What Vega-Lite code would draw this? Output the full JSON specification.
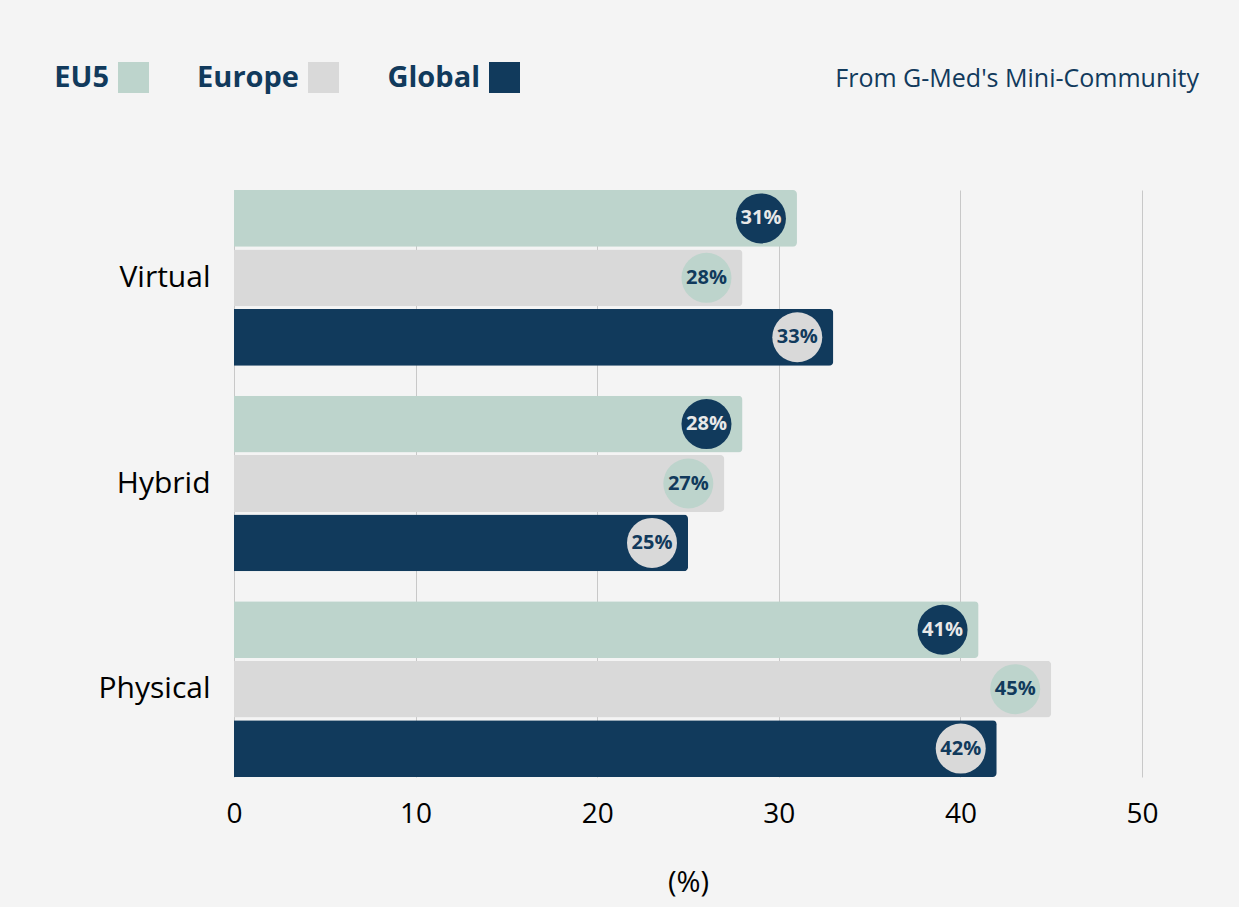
{
  "$schema": "https://vega.github.io/schema/vega-lite/v6.json",
  "width": 908,
  "height": 587,
  "autosize": {"type": "none"},
  "padding": {"left": 234, "top": 190, "right": 97, "bottom": 130},
  "background": "#f4f4f4",
  "config": {
    "view": {"stroke": null},
    "font": "Open Sans"
  },
  "title": {
    "text": "From G-Med's Mini-Community",
    "anchor": "end",
    "frame": "group",
    "orient": "top",
    "dx": 57,
    "offset": 0,
    "dy": 50,
    "baseline": "alphabetic",
    "fontSize": 25,
    "fontWeight": "normal",
    "color": "#113a5c",
    "font": "Open Sans"
  },
  "data": {
    "values": [
      {"mode": "Virtual", "region": "EU5", "value": 31, "label": "31%"},
      {"mode": "Virtual", "region": "Europe", "value": 28, "label": "28%"},
      {"mode": "Virtual", "region": "Global", "value": 33, "label": "33%"},
      {"mode": "Hybrid", "region": "EU5", "value": 28, "label": "28%"},
      {"mode": "Hybrid", "region": "Europe", "value": 27, "label": "27%"},
      {"mode": "Hybrid", "region": "Global", "value": 25, "label": "25%"},
      {"mode": "Physical", "region": "EU5", "value": 41, "label": "41%"},
      {"mode": "Physical", "region": "Europe", "value": 45, "label": "45%"},
      {"mode": "Physical", "region": "Global", "value": 42, "label": "42%"}
    ]
  },
  "encoding": {
    "y": {
      "field": "mode",
      "type": "nominal",
      "sort": ["Virtual", "Hybrid", "Physical"],
      "scale": {"paddingInner": 0.146, "paddingOuter": 0},
      "axis": {
        "title": null,
        "domain": false,
        "ticks": false,
        "labelFontSize": 30,
        "labelColor": "#000000",
        "labelPadding": 24,
        "labelFont": "Open Sans"
      }
    },
    "yOffset": {
      "field": "region",
      "type": "nominal",
      "sort": ["EU5", "Europe", "Global"],
      "scale": {"paddingInner": 0.045, "paddingOuter": 0}
    },
    "x": {
      "field": "value",
      "type": "quantitative",
      "scale": {"domain": [0, 50]},
      "axis": {
        "values": [0, 10, 20, 30, 40, 50],
        "title": "(%)",
        "titleFontSize": 29,
        "titleFontWeight": "normal",
        "titleColor": "#000000",
        "titlePadding": 40,
        "titleFont": "Open Sans",
        "domain": false,
        "ticks": false,
        "grid": true,
        "gridColor": "#c8c8c8",
        "gridWidth": 1,
        "labelFontSize": 28,
        "labelColor": "#000000",
        "labelPadding": 23,
        "labelFlush": false,
        "labelFont": "Open Sans"
      }
    }
  },
  "layer": [
    {
      "mark": {"type": "bar", "cornerRadiusEnd": 4},
      "encoding": {
        "color": {
          "field": "region",
          "type": "nominal",
          "sort": ["EU5", "Europe", "Global"],
          "scale": {"domain": ["EU5", "Europe", "Global"], "range": ["#bdd4cc", "#d9d9d9", "#113a5c"]},
          "legend": {
            "title": null,
            "orient": "none",
            "legendX": -116,
            "legendY": -128,
            "direction": "horizontal",
            "symbolType": "square",
            "symbolSize": 961,
            "symbolStrokeWidth": 0,
            "symbolOpacity": 1,
            "labelAlign": "right",
            "labelOffset": -40,
            "labelFontSize": 29,
            "labelFontWeight": "bold",
            "labelColor": "#113a5c",
            "labelFont": "Open Sans",
            "columnPadding": 48
          }
        }
      }
    },
    {
      "mark": {"type": "point", "shape": "circle", "filled": true, "opacity": 1, "size": 2500, "xOffset": -36},
      "encoding": {
        "fill": {
          "field": "region",
          "type": "nominal",
          "scale": {"domain": ["EU5", "Europe", "Global"], "range": ["#113a5c", "#bdd4cc", "#d9d9d9"]},
          "legend": null
        }
      }
    },
    {
      "mark": {"type": "text", "fontSize": 20, "fontWeight": "bold", "xOffset": -36, "baseline": "middle", "align": "center", "font": "Open Sans"},
      "encoding": {
        "text": {"field": "label"},
        "color": {
          "condition": {"test": "datum.region === 'EU5'", "value": "#e8e8e8"},
          "value": "#113a5c"
        }
      }
    }
  ]
}
